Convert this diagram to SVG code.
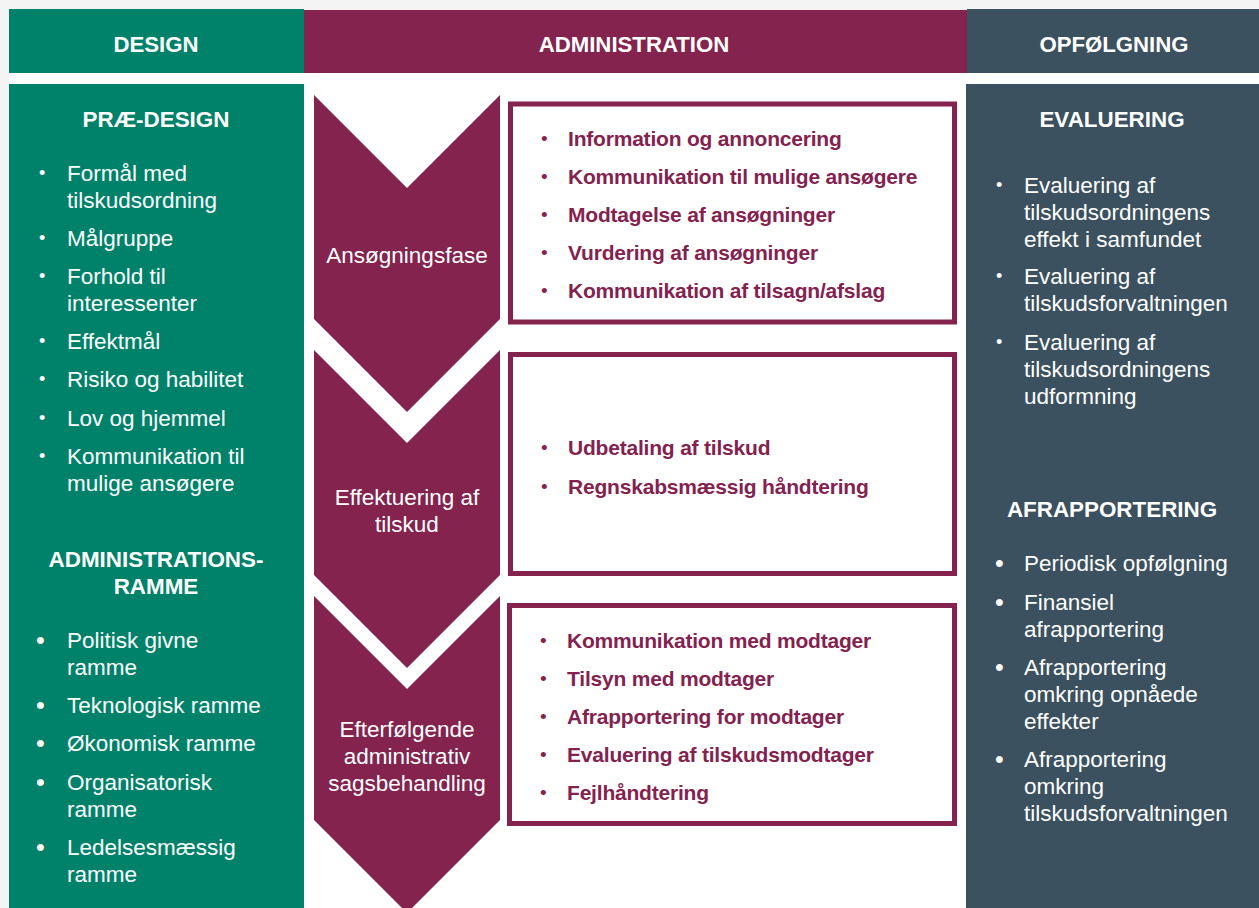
<svg xmlns="http://www.w3.org/2000/svg" width="1259" height="908" viewBox="0 0 1259 908">
  <style>
    .hdr { font-family: "Liberation Sans", Arial, sans-serif; font-size: 22.2px; font-weight: bold; fill: #ffffff; text-anchor: middle; }
    .sub { font-family: "Liberation Sans", Arial, sans-serif; font-size: 22.4px; font-weight: bold; fill: #ffffff; text-anchor: middle; }
    .body { font-family: "Liberation Sans", Arial, sans-serif; font-size: 22.5px; fill: #ffffff; }
    .blt { font-family: "Liberation Sans", Arial, sans-serif; font-size: 18px; fill: #ffffff; }
    .bltL { font-family: "Liberation Sans", Arial, sans-serif; font-size: 25px; fill: #ffffff; }
    .chev { fill: #83234e; }
    .chevtxt { font-family: "Liberation Sans", Arial, sans-serif; font-size: 22.5px; fill: #ffffff; text-anchor: middle; }
    .box { fill: #ffffff; stroke: #83234e; stroke-width: 5; }
    .item { font-family: "Liberation Sans", Arial, sans-serif; font-size: 21px; font-weight: bold; fill: #84224f; letter-spacing: -0.2px; }
    .iblt { font-family: "Liberation Sans", Arial, sans-serif; font-size: 19px; fill: #84224f; }
  </style>

  <!-- page background -->
  <rect x="0" y="0" width="1259" height="908" fill="#f4f4f4"/>
  <rect x="9" y="73" width="1250" height="835" fill="#ffffff"/>

  <!-- column headers -->
  <g id="header-design">
    <rect x="9" y="9" width="295" height="64" fill="#00826a"/>
    <text class="hdr" x="156" y="52">DESIGN</text>
  </g>
  <g id="header-administration">
    <rect x="304" y="10" width="663" height="63" fill="#83234e"/>
    <text class="hdr" x="634" y="52">ADMINISTRATION</text>
  </g>
  <g id="header-opfoelgning">
    <rect x="967" y="9" width="292" height="64" fill="#3c5160"/>
    <text class="hdr" x="1114" y="52">OPFØLGNING</text>
  </g>

  <!-- design column -->
  <g id="design-column">
    <rect x="9" y="84" width="295" height="824" fill="#00826a"/>
    <text class="sub" x="156" y="127">PRÆ-DESIGN</text>
    <g>
      <text class="blt" x="39" y="179">•</text>
      <text class="body" x="67" y="181">Formål med</text>
      <text class="body" x="67" y="208">tilskudsordning</text>
      <text class="blt" x="39" y="244">•</text>
      <text class="body" x="67" y="246">Målgruppe</text>
      <text class="blt" x="39" y="282">•</text>
      <text class="body" x="67" y="284">Forhold til</text>
      <text class="body" x="67" y="311">interessenter</text>
      <text class="blt" x="39" y="347">•</text>
      <text class="body" x="67" y="349">Effektmål</text>
      <text class="blt" x="39" y="385">•</text>
      <text class="body" x="67" y="387">Risiko og habilitet</text>
      <text class="blt" x="39" y="424">•</text>
      <text class="body" x="67" y="426">Lov og hjemmel</text>
      <text class="blt" x="39" y="462">•</text>
      <text class="body" x="67" y="464">Kommunikation til</text>
      <text class="body" x="67" y="491">mulige ansøgere</text>
    </g>
    <text class="sub" x="156" y="567">ADMINISTRATIONS-</text>
    <text class="sub" x="156" y="594">RAMME</text>
    <g>
      <text class="bltL" x="36" y="649">•</text>
      <text class="body" x="67" y="648">Politisk givne</text>
      <text class="body" x="67" y="675">ramme</text>
      <text class="bltL" x="36" y="714">•</text>
      <text class="body" x="67" y="713">Teknologisk ramme</text>
      <text class="bltL" x="36" y="752">•</text>
      <text class="body" x="67" y="751">Økonomisk ramme</text>
      <text class="bltL" x="36" y="791">•</text>
      <text class="body" x="67" y="790">Organisatorisk</text>
      <text class="body" x="67" y="817">ramme</text>
      <text class="bltL" x="36" y="856">•</text>
      <text class="body" x="67" y="855">Ledelsesmæssig</text>
      <text class="body" x="67" y="882">ramme</text>
    </g>
  </g>

  <!-- administration phases -->
  <g id="phase-ansoegning">
    <path class="chev" d="M314,95 L407,188 L500,95 L500,319 L407,412 L314,319 Z"/>
    <text class="chevtxt" x="407" y="263">Ansøgningsfase</text>
  </g>
  <g id="phase-effektuering">
    <path class="chev" d="M314,350 L407,443 L500,350 L500,575 L407,668 L314,575 Z"/>
    <text class="chevtxt" x="407" y="505">Effektuering af</text>
    <text class="chevtxt" x="407" y="532">tilskud</text>
  </g>
  <g id="phase-efterfoelgende">
    <path class="chev" d="M314,596 L407,689 L500,596 L500,820 L407,913 L314,820 Z"/>
    <text class="chevtxt" x="407" y="737">Efterfølgende</text>
    <text class="chevtxt" x="407" y="764">administrativ</text>
    <text class="chevtxt" x="407" y="791">sagsbehandling</text>
  </g>

  <!-- task boxes -->
  <g id="box-ansoegning">
    <rect class="box" x="510.5" y="104" width="444" height="218"/>
    <text class="iblt" x="541" y="145">•</text>
    <text class="item" x="568" y="146">Information og annoncering</text>
    <text class="iblt" x="541" y="183">•</text>
    <text class="item" x="568" y="184">Kommunikation til mulige ansøgere</text>
    <text class="iblt" x="541" y="221">•</text>
    <text class="item" x="568" y="222">Modtagelse af ansøgninger</text>
    <text class="iblt" x="541" y="259">•</text>
    <text class="item" x="568" y="260">Vurdering af ansøgninger</text>
    <text class="iblt" x="541" y="297">•</text>
    <text class="item" x="568" y="298">Kommunikation af tilsagn/afslag</text>
  </g>
  <g id="box-effektuering">
    <rect class="box" x="510.5" y="354.5" width="444" height="219"/>
    <text class="iblt" x="541" y="454">•</text>
    <text class="item" x="568" y="455">Udbetaling af tilskud</text>
    <text class="iblt" x="541" y="493">•</text>
    <text class="item" x="568" y="494">Regnskabsmæssig håndtering</text>
  </g>
  <g id="box-efterfoelgende">
    <rect class="box" x="509.5" y="605.5" width="445" height="218"/>
    <text class="iblt" x="540" y="647">•</text>
    <text class="item" x="567" y="648">Kommunikation med modtager</text>
    <text class="iblt" x="540" y="685">•</text>
    <text class="item" x="567" y="686">Tilsyn med modtager</text>
    <text class="iblt" x="540" y="723">•</text>
    <text class="item" x="567" y="724">Afrapportering for modtager</text>
    <text class="iblt" x="540" y="761">•</text>
    <text class="item" x="567" y="762">Evaluering af tilskudsmodtager</text>
    <text class="iblt" x="540" y="799">•</text>
    <text class="item" x="567" y="800">Fejlhåndtering</text>
  </g>

  <!-- follow-up column -->
  <g id="opfoelgning-column">
    <rect x="966" y="84" width="293" height="824" fill="#3c5160"/>
    <text class="sub" x="1112" y="127">EVALUERING</text>
    <g>
      <text class="blt" x="996" y="191">•</text>
      <text class="body" x="1024" y="193">Evaluering af</text>
      <text class="body" x="1024" y="220">tilskudsordningens</text>
      <text class="body" x="1024" y="247">effekt i samfundet</text>
      <text class="blt" x="996" y="282">•</text>
      <text class="body" x="1024" y="284">Evaluering af</text>
      <text class="body" x="1024" y="311">tilskudsforvaltningen</text>
      <text class="blt" x="996" y="348">•</text>
      <text class="body" x="1024" y="350">Evaluering af</text>
      <text class="body" x="1024" y="377">tilskudsordningens</text>
      <text class="body" x="1024" y="404">udformning</text>
    </g>
    <text class="sub" x="1112" y="517">AFRAPPORTERING</text>
    <g>
      <text class="bltL" x="995" y="572">•</text>
      <text class="body" x="1024" y="571">Periodisk opfølgning</text>
      <text class="bltL" x="995" y="611">•</text>
      <text class="body" x="1024" y="610">Finansiel</text>
      <text class="body" x="1024" y="637">afrapportering</text>
      <text class="bltL" x="995" y="676">•</text>
      <text class="body" x="1024" y="675">Afrapportering</text>
      <text class="body" x="1024" y="702">omkring opnåede</text>
      <text class="body" x="1024" y="729">effekter</text>
      <text class="bltL" x="995" y="768">•</text>
      <text class="body" x="1024" y="767">Afrapportering</text>
      <text class="body" x="1024" y="794">omkring</text>
      <text class="body" x="1024" y="821">tilskudsforvaltningen</text>
    </g>
  </g>
</svg>
